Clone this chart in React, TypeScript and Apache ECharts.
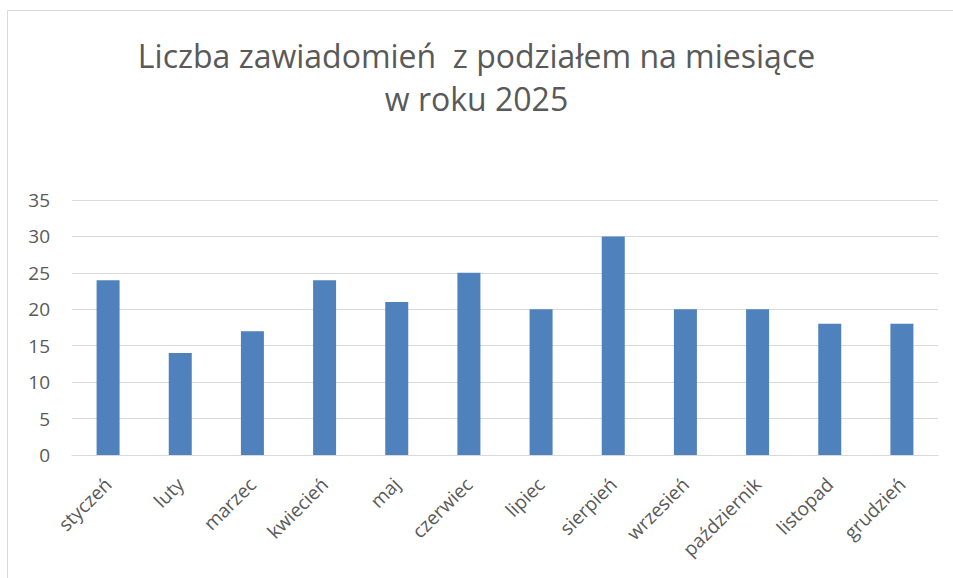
import React, { useEffect, useRef } from "react";
import * as echarts from "echarts";

const titleLines = ["Liczba zawiadomień  z podziałem na miesiące", "w roku 2025"];
const months = ["styczeń", "luty", "marzec", "kwiecień", "maj", "czerwiec", "lipiec", "sierpień", "wrzesień", "październik", "listopad", "grudzień"];
const counts = [24, 14, 17, 24, 21, 25, 20, 30, 20, 20, 18, 18];
const yMin = 0;
const yMax = 35;
const yStep = 5;

const FONT = "'Open Sans', 'Noto Sans', sans-serif";

export default function App() {
  const ref = useRef<HTMLDivElement>(null);
  useEffect(() => {
    if (!ref.current) return;
    const chart = echarts.init(ref.current, null, { renderer: "svg" });
    chart.setOption({
      animation: false,
      backgroundColor: "#ffffff",
      title: {
        text: titleLines.join("\n"),
        left: "center",
        top: 34,
        padding: 0,
        textStyle: {
          fontFamily: FONT,
          fontSize: 32,
          fontWeight: "normal",
          color: "#595959",
          lineHeight: 43,
        },
      },
      graphic: [
        { type: "line", shape: { x1: 7.5, y1: 10.5, x2: 953, y2: 10.5 }, style: { stroke: "#d9d9d9", lineWidth: 1 } },
        { type: "line", shape: { x1: 7.5, y1: 10.5, x2: 7.5, y2: 578 }, style: { stroke: "#d9d9d9", lineWidth: 1 } },
      ],
      grid: { left: 72, right: 15, top: 200, bottom: 123, containLabel: false },
      xAxis: {
        type: "category",
        data: months,
        axisLine: { show: true, lineStyle: { color: "#d9d9d9", width: 1 } },
        axisTick: { show: false },
        axisLabel: {
          rotate: 45,
          interval: 0,
          margin: 26,
          fontFamily: FONT,
          fontSize: 19,
          color: "#595959",
        },
      },
      yAxis: {
        type: "value",
        min: yMin,
        max: yMax,
        interval: yStep,
        axisLine: { show: false },
        axisTick: { show: false },
        splitLine: { lineStyle: { color: "#d9d9d9", width: 1 } },
        axisLabel: {
          margin: 22,
          fontFamily: FONT,
          fontSize: 19,
          color: "#595959",
        },
      },
      series: [
        {
          type: "bar",
          data: counts,
          barWidth: 23,
          itemStyle: { color: "#4f81bd" },
        },
      ],
    });
    return () => chart.dispose();
  }, []);
  return (
    <div
      ref={ref}
      style={{ position: "fixed", left: 0, top: 0, width: 953, height: 578 }}
    />
  );
}
